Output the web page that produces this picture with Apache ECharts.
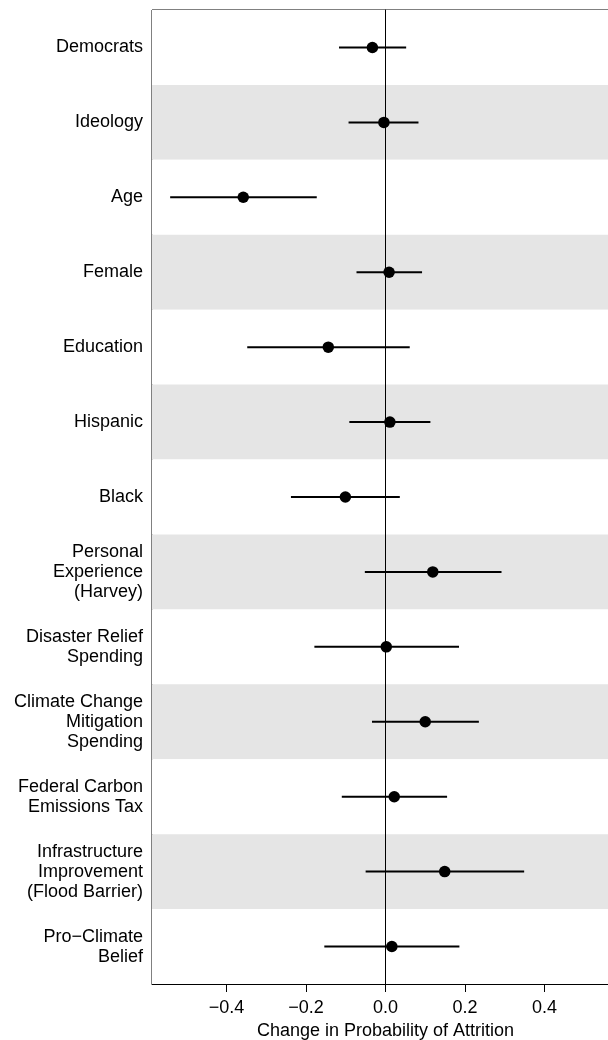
<!DOCTYPE html>
<html>
<head>
<meta charset="utf-8">
<script src="https://cdn.jsdelivr.net/npm/echarts@6/dist/echarts.min.js"></script>
<style>
html,body{margin:0;padding:0;background:#fff;}
#chart{width:608px;height:1040px;}
</style>
</head>
<body>
<div id="chart"></div>
<script>
const categories = [
  "Democrats",
  "Ideology",
  "Age",
  "Female",
  "Education",
  "Hispanic",
  "Black",
  "Personal\nExperience\n(Harvey)",
  "Disaster Relief\nSpending",
  "Climate Change\nMitigation\nSpending",
  "Federal Carbon\nEmissions Tax",
  "Infrastructure\nImprovement\n(Flood Barrier)",
  "Pro\u2212Climate\nBelief"
];
const estimates = [-0.033, -0.004, -0.358, 0.009, -0.144, 0.011, -0.101, 0.119, 0.002, 0.100, 0.022, 0.149, 0.016];
const lower     = [-0.117, -0.093, -0.542, -0.073, -0.348, -0.091, -0.238, -0.052, -0.179, -0.034, -0.110, -0.050, -0.154];
const upper     = [ 0.052,  0.083, -0.173,  0.092,  0.061,  0.113,  0.036,  0.292,  0.185,  0.235,  0.155,  0.349,  0.186];
const xTicks    = [-0.4, -0.2, 0, 0.2, 0.4];
const xTitle = "Change in Probability of Attrition";

const fmt = v => {
  const s = Math.abs(v).toFixed(1);
  return v < -1e-9 ? "\u2212" + s : s;
};

const chart = echarts.init(document.getElementById('chart'), null, {renderer: 'canvas'});
const font = "'Liberation Sans', Arial, Helvetica, sans-serif";

const ciData = categories.map((c, i) => [lower[i], upper[i], i]);
const ptData = categories.map((c, i) => [estimates[i], i]);

chart.setOption({
  animation: false,
  backgroundColor: '#fff',
  grid: {
    left: 152, top: 10, width: 467, bottom: 56,
    outerBoundsMode: 'none',
    containLabel: false,
    show: true, borderColor: '#000', borderWidth: 1, backgroundColor: 'transparent'
  },
  xAxis: {
    type: 'value',
    min: -0.5877, max: 0.5877,
    name: xTitle,
    nameLocation: 'middle',
    nameGap: 33,
    nameTextStyle: {fontFamily: font, fontSize: 18, color: '#000'},
    axisLine: {show: true, lineStyle: {color: '#000', width: 1}},
    axisTick: {show: true, length: 8, customValues: xTicks, lineStyle: {color: '#000', width: 1}},
    axisLabel: {
      customValues: xTicks, margin: 15,
      fontFamily: font, fontSize: 18, color: '#000',
      formatter: v => fmt(v)
    },
    splitLine: {show: false}
  },
  yAxis: {
    type: 'category',
    data: categories,
    inverse: true,
    axisLine: {show: true, lineStyle: {color: '#000', width: 1}},
    axisTick: {show: false},
    axisLabel: {
      margin: 9, fontFamily: font, fontSize: 18, color: '#000',
      lineHeight: 20, align: 'right', padding: [2, 0, 0, 0]
    },
    splitLine: {show: false},
    splitArea: {show: true, areaStyle: {color: ['#ffffff', '#e5e5e5']}}
  },
  series: [
    {
      type: 'custom',
      data: ciData,
      encode: {x: [0, 1], y: 2},
      z: 3,
      renderItem: function (params, api) {
        const a = api.coord([api.value(0), api.value(2)]);
        const b = api.coord([api.value(1), api.value(2)]);
        return {
          type: 'line',
          shape: {x1: a[0], y1: a[1], x2: b[0], y2: b[1]},
          style: {stroke: '#000', lineWidth: 2}
        };
      },
      silent: true
    },
    {
      type: 'scatter',
      data: ptData,
      symbol: 'circle',
      symbolSize: 11.5,
      itemStyle: {color: '#000', opacity: 1},
      z: 4,
      silent: true,
      markLine: {
        silent: true,
        symbol: ['none', 'none'],
        label: {show: false},
        lineStyle: {color: '#000', width: 1, type: 'solid'},
        data: [{xAxis: 0}],
        z: 2
      }
    }
  ]
});
</script>
</body>
</html>
